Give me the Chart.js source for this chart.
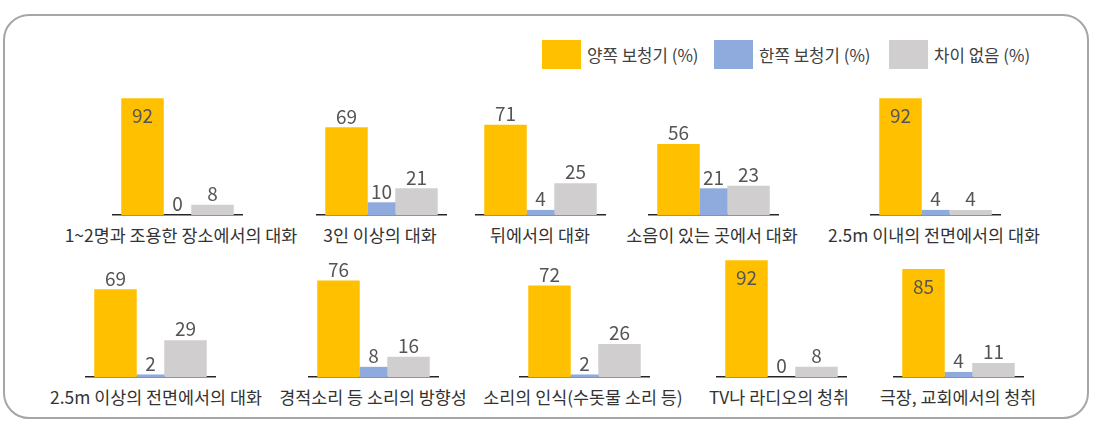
<!DOCTYPE html>
<html>
<head>
<meta charset="utf-8">
<script src="https://cdn.jsdelivr.net/npm/chart.js@4"></script>
<style>
  body { margin: 0; background: #fff; font-family: "Noto Sans CJK KR", "Noto Sans", sans-serif; }
  #wrap { position: relative; width: 1096px; height: 430px; overflow: hidden; }
  #frame { position: absolute; left: 3px; top: 14px; width: 1082px; height: 401px;
           border: 2px solid #a6a6a6; border-radius: 26px; }
  .legend-item { position: absolute; top: 40px; display: flex; align-items: center; height: 29px;
                 font-size: 16.8px; color: #404040; white-space: nowrap; }
  .legend-item span.sw { display: inline-block; width: 39px; height: 29px; margin-right: 6px; }
  .title { position: absolute; width: 300px; text-align: center; font-size: 17.4px; color: #333;
           white-space: nowrap; line-height: 20px; }
  canvas { position: absolute; }
</style>
</head>
<body>
<div id="wrap">
  <div id="frame"></div>
</div>
<script>
const seriesNames = ['양쪽 보청기 (%)', '한쪽 보청기 (%)', '차이 없음 (%)'];
const categories = [
  '1~2명과 조용한 장소에서의 대화',
  '3인 이상의 대화',
  '뒤에서의 대화',
  '소음이 있는 곳에서 대화',
  '2.5m 이내의 전면에서의 대화',
  '2.5m 이상의 전면에서의 대화',
  '경적소리 등 소리의 방향성',
  '소리의 인식(수돗물 소리 등)',
  'TV나 라디오의 청취',
  '극장, 교회에서의 청취'
];
const bothEars = [92, 69, 71, 56, 92, 69, 76, 72, 92, 85];
const oneEar = [0, 10, 4, 21, 4, 2, 8, 2, 0, 4];
const noDiff = [8, 21, 25, 23, 4, 29, 16, 26, 8, 11];

const colors = ['#FFC000', '#8FAADC', '#D0CECE'];
const barPct = [1.214, 0.8, 1.214];

// layout: center x of each small chart, title center, baseline y of each row
const centers = [177, 381, 540, 713, 935, 150, 373.5, 584, 781, 958];
const titleCenters = [181, 380, 540, 712, 934, 156, 373, 583, 779, 958];
const baselines = [215, 377];
const areaW = 131;
const areaH = 127;

const wrap = document.getElementById('wrap');

// legend
const legendLeft = [542, 714, 889];
seriesNames.forEach((name, i) => {
  const item = document.createElement('div');
  item.className = 'legend-item';
  item.style.left = legendLeft[i] + 'px';
  item.innerHTML = `<span class="sw" style="background:${colors[i]}"></span>${name}`;
  wrap.appendChild(item);
});

// value labels above (or inside tall) bars
const valueLabels = {
  id: 'valueLabels',
  afterDatasetsDraw(chart) {
    const ctx = chart.ctx;
    ctx.save();
    ctx.font = '19px "Noto Sans CJK KR", "Noto Sans", sans-serif';
    ctx.fillStyle = '#555555';
    ctx.textAlign = 'center';
    ctx.textBaseline = 'middle';
    chart.data.datasets.forEach((ds, di) => {
      const meta = chart.getDatasetMeta(di);
      meta.data.forEach((bar, i) => {
        const v = ds.data[i];
        const y = v >= 80 ? bar.y + 18 : bar.y - 11;
        ctx.fillText(String(v), bar.x, y);
      });
    });
    ctx.restore();
  }
};

categories.forEach((cat, k) => {
  const row = k < 5 ? 0 : 1;
  const base = baselines[row];
  const cx = centers[k];

  const canvas = document.createElement('canvas');
  canvas.width = areaW;
  canvas.height = areaH + 3;
  canvas.style.left = (cx - areaW / 2) + 'px';
  canvas.style.top = (base - areaH) + 'px';
  wrap.appendChild(canvas);

  const values = [bothEars[k], oneEar[k], noDiff[k]];
  new Chart(canvas.getContext('2d'), {
    type: 'bar',
    data: {
      labels: [cat],
      datasets: seriesNames.map((name, i) => ({
        label: name,
        data: [values[i]],
        backgroundColor: colors[i],
        borderWidth: 0,
        barPercentage: barPct[i],
        categoryPercentage: 0.8015
      }))
    },
    options: {
      responsive: false,
      animation: false,
      devicePixelRatio: 1,
      layout: { padding: { top: 0, bottom: 3, left: 0, right: 0 } },
      plugins: { legend: { display: false }, tooltip: { enabled: false } },
      scales: {
        x: {
          grid: { display: false, drawTicks: false },
          ticks: { display: false },
          border: { display: true, color: '#262626', width: 1.5 }
        },
        y: { display: false, min: 0, max: 100 }
      }
    },
    plugins: [valueLabels]
  });

  const t = document.createElement('div');
  t.className = 'title';
  t.textContent = cat;
  t.style.left = (titleCenters[k] - 150) + 'px';
  t.style.top = (base + 10) + 'px';
  wrap.appendChild(t);
});
</script>
</body>
</html>
